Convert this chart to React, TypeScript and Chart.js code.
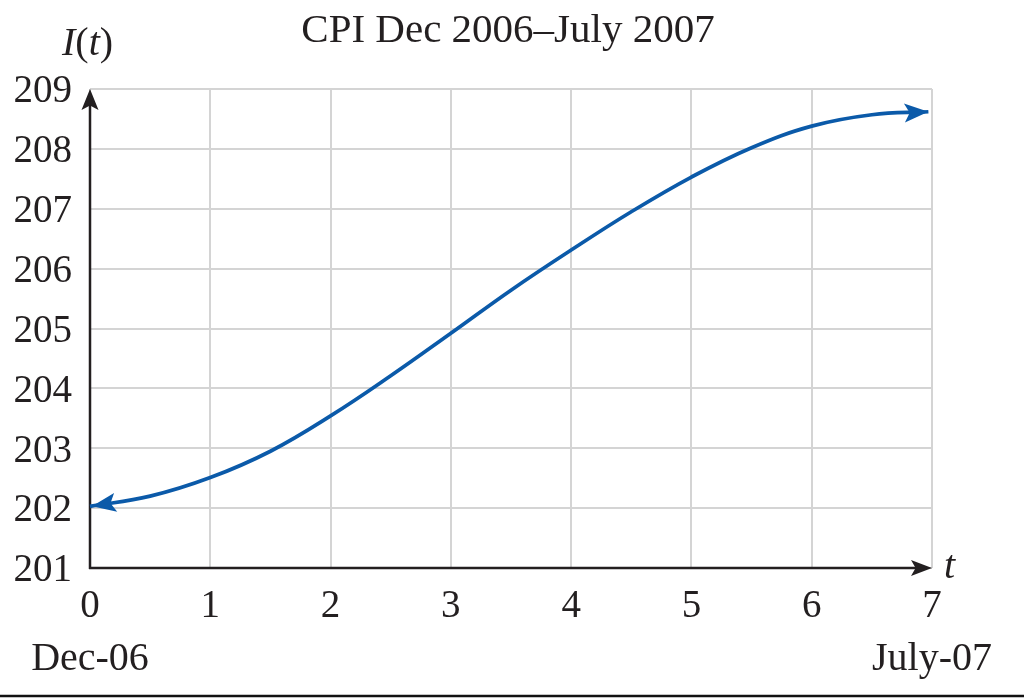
import React, { useEffect, useRef } from "react";
import { Chart, registerables } from "chart.js";

Chart.register(...registerables);

// ---- data ----
const tValues = [0, 0.5, 1, 1.5, 2, 2.5, 3, 3.5, 4, 4.5, 5, 5.5, 6, 6.5, 6.97];
const cpiValues = [
  202.03, 202.2, 202.51, 202.95, 203.54, 204.21, 204.92, 205.64, 206.31, 206.95, 207.53, 208.02, 208.38, 208.57,
  208.62,
];
const xTickValues = [0, 1, 2, 3, 4, 5, 6, 7];
const yTickValues = [201, 202, 203, 204, 205, 206, 207, 208, 209];
const titleText = "CPI Dec 2006–July 2007";
const startLabel = "Dec-06";
const endLabel = "July-07";

const SERIF = '"Liberation Serif", "Times New Roman", serif';
const INK = "#231f20";
const BLUE = "#0b5aa9";

function arrowHead(ctx: CanvasRenderingContext2D, x: number, y: number, ang: number, len: number, hw: number, color: string) {
  ctx.save();
  ctx.translate(x, y);
  ctx.rotate(ang);
  ctx.beginPath();
  ctx.moveTo(0, 0);
  ctx.lineTo(-len, -hw);
  ctx.lineTo(-len * 0.78, 0);
  ctx.lineTo(-len, hw);
  ctx.closePath();
  ctx.fillStyle = color;
  ctx.fill();
  ctx.restore();
}

const decorPlugin = {
  id: "decor",
  beforeDatasetsDraw(chart: any) {
    const ctx: CanvasRenderingContext2D = chart.ctx;
    const { left, right, top, bottom } = chart.chartArea;
    ctx.save();
    ctx.strokeStyle = INK;
    ctx.lineWidth = 2.5;
    ctx.beginPath();
    ctx.moveTo(left, bottom + 1);
    ctx.lineTo(left, top + 12);
    ctx.moveTo(left - 1, bottom);
    ctx.lineTo(right - 12, bottom);
    ctx.stroke();
    arrowHead(ctx, left, top, -Math.PI / 2, 21, 8.5, INK);
    arrowHead(ctx, right, bottom, 0, 21, 8, INK);
    ctx.restore();
  },
  afterDatasetsDraw(chart: any) {
    const ctx: CanvasRenderingContext2D = chart.ctx;
    const pts = chart.getDatasetMeta(0).data;
    const p0 = pts[0];
    const p1 = pts[1];
    const n = pts.length;
    const pl = pts[n - 1];
    const pp = pts[n - 2];
    const sx = p0.cp2x !== undefined ? p0.cp2x : p1.x;
    const sy = p0.cp2y !== undefined ? p0.cp2y : p1.y;
    const ex = pl.cp1x !== undefined ? pl.cp1x : pp.x;
    const ey = pl.cp1y !== undefined ? pl.cp1y : pp.y;
    arrowHead(ctx, p0.x + 2, p0.y, Math.atan2(p0.y - sy, p0.x - sx), 24, 9.5, BLUE);
    arrowHead(ctx, pl.x, pl.y, Math.atan2(pl.y - ey, pl.x - ex), 24, 9.5, BLUE);
  },
  afterDraw(chart: any) {
    const ctx: CanvasRenderingContext2D = chart.ctx;
    const { left, right, bottom } = chart.chartArea;
    ctx.save();
    ctx.fillStyle = INK;
    ctx.textBaseline = "alphabetic";
    // title
    ctx.font = `41px ${SERIF}`;
    ctx.textAlign = "center";
    ctx.fillText(titleText, 508, 42);
    // y axis label I(t)
    ctx.textAlign = "left";
    let x = 62;
    const yb = 55;
    const parts: [string, boolean][] = [["I", true], ["(", false], ["t", true], [")", false]];
    for (const [s, it] of parts) {
      ctx.font = `${it ? "italic " : ""}40px ${SERIF}`;
      ctx.fillText(s, x, yb);
      x += ctx.measureText(s).width;
    }
    // x axis label t
    ctx.font = `italic 40px ${SERIF}`;
    ctx.fillText("t", 944, bottom + 10);
    // date labels
    ctx.font = `40px ${SERIF}`;
    ctx.textAlign = "center";
    ctx.fillText(startLabel, left, 670);
    ctx.textAlign = "right";
    ctx.fillText(endLabel, right + 60, 670);
    // bottom rule
    ctx.strokeStyle = "#111";
    ctx.lineWidth = 2.5;
    ctx.beginPath();
    ctx.moveTo(0, 696);
    ctx.lineTo(1024, 696);
    ctx.stroke();
    ctx.restore();
  },
};

export default function App() {
  const ref = useRef<HTMLCanvasElement | null>(null);
  useEffect(() => {
    if (!ref.current) return;
    const chart = new Chart(ref.current, {
      type: "line",
      data: {
        datasets: [
          {
            data: tValues.map((t, i) => ({ x: t, y: cpiValues[i] })),
            borderColor: BLUE,
            borderWidth: 3.7,
            pointRadius: 0,
            tension: 0.4,
            fill: false,
            clip: false as any,
          },
        ],
      },
      options: {
        responsive: false,
        animation: false,
        devicePixelRatio: 1,
        layout: { padding: { top: 89, right: 92, bottom: 0, left: 0 } },
        plugins: { legend: { display: false }, tooltip: { enabled: false }, title: { display: false } },
        scales: {
          x: {
            type: "linear",
            min: 0,
            max: 7,
            afterBuildTicks: (s: any) => {
              s.ticks = xTickValues.map((v) => ({ value: v }));
            },
            afterFit: (s: any) => {
              s.height = 130;
            },
            grid: { color: "#d4d4d4", lineWidth: 2, drawTicks: false },
            border: { display: false },
            ticks: {
              padding: 19,
              color: INK,
              font: { family: SERIF, size: 39, lineHeight: 1 },
              maxRotation: 0,
              autoSkip: false,
            },
          },
          y: {
            type: "linear",
            min: 201,
            max: 209,
            afterBuildTicks: (s: any) => {
              s.ticks = yTickValues.map((v) => ({ value: v }));
            },
            afterFit: (s: any) => {
              s.width = 90;
            },
            grid: { color: "#d4d4d4", lineWidth: 2, drawTicks: false },
            border: { display: false },
            ticks: {
              padding: 18,
              labelOffset: 3,
              color: INK,
              font: { family: SERIF, size: 39, lineHeight: 1 },
              autoSkip: false,
            },
          },
        },
      },
      plugins: [decorPlugin],
    } as any);
    return () => chart.destroy();
  }, []);
  return (
    <div style={{ position: "absolute", left: 0, top: 0, width: 1024, height: 698, background: "#fff" }}>
      <canvas ref={ref} width={1024} height={698} style={{ display: "block" }} />
    </div>
  );
}
